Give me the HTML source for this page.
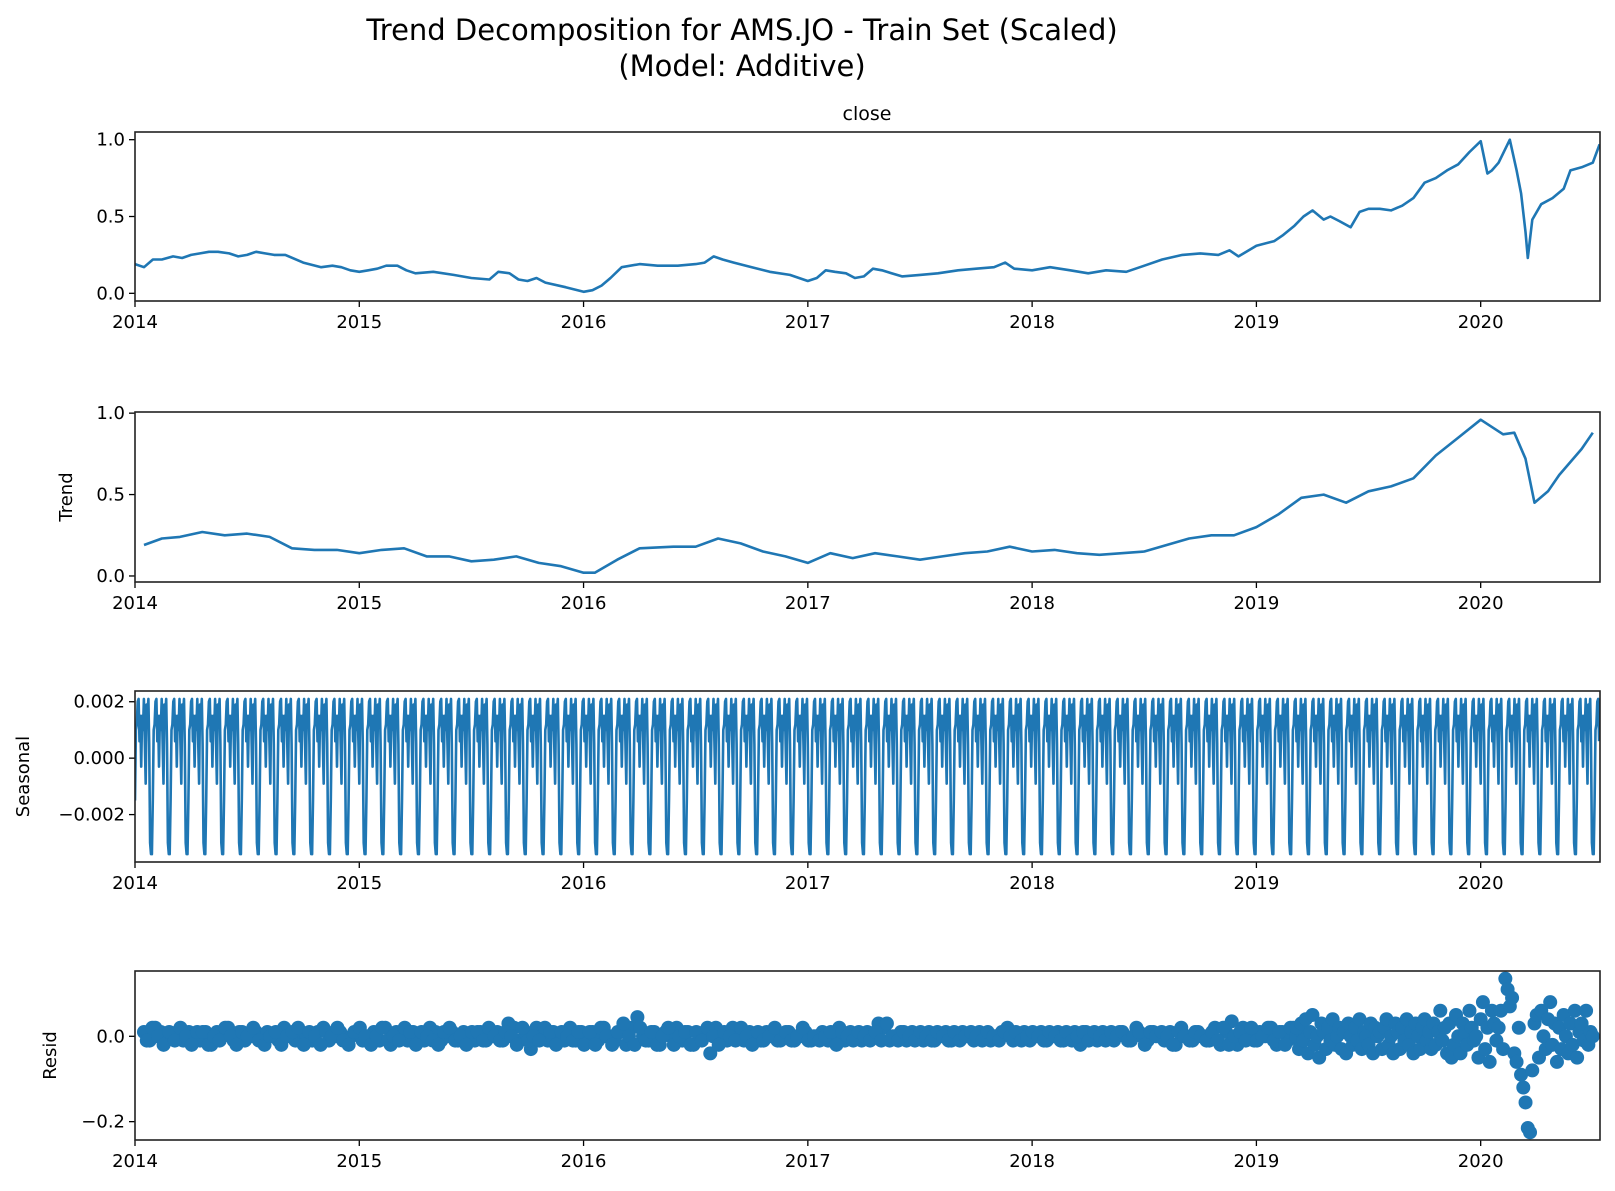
<!DOCTYPE html>
<html><head><meta charset="utf-8"><style>
body{margin:0;background:#fff}
svg{display:block;font-family:"DejaVu Sans","Liberation Sans",sans-serif}
</style></head><body>
<svg id="fig" width="1615" height="1191" viewBox="0 0 1615 1191">
<text x="742" y="40" font-size="29" text-anchor="middle">Trend Decomposition for AMS.JO - Train Set (Scaled)</text>
<text x="742" y="76" font-size="29" text-anchor="middle">(Model: Additive)</text>
<text x="867" y="120" font-size="19" text-anchor="middle">close</text>
</svg>
<script>
const closeT=[2014.0,2014.04,2014.08,2014.12,2014.17,2014.21,2014.25,2014.29,2014.33,2014.37,2014.42,2014.46,2014.5,2014.54,2014.58,2014.62,2014.67,2014.75,2014.83,2014.88,2014.92,2014.96,
2015.0,2015.04,2015.08,2015.12,2015.17,2015.21,2015.25,2015.33,2015.42,2015.5,2015.58,2015.62,2015.67,2015.71,2015.75,2015.79,2015.83,2015.92,
2016.0,2016.04,2016.08,2016.12,2016.17,2016.25,2016.33,2016.42,2016.5,2016.54,2016.58,2016.62,2016.67,2016.75,2016.83,2016.92,
2017.0,2017.04,2017.08,2017.12,2017.17,2017.21,2017.25,2017.29,2017.33,2017.42,2017.5,2017.58,2017.67,2017.75,2017.83,2017.88,2017.92,
2018.0,2018.08,2018.17,2018.25,2018.33,2018.42,2018.5,2018.58,2018.67,2018.75,2018.83,2018.88,2018.92,
2019.0,2019.08,2019.12,2019.17,2019.21,2019.25,2019.3,2019.33,2019.37,2019.42,2019.46,2019.5,2019.55,2019.6,2019.65,2019.7,2019.75,2019.8,2019.85,2019.9,2019.95,
2020.0,2020.03,2020.05,2020.08,2020.13,2020.16,2020.18,2020.2,2020.21,2020.23,2020.27,2020.32,2020.37,2020.4,2020.45,2020.5,2020.53];
const closeV=[0.19,0.17,0.22,0.22,0.24,0.23,0.25,0.26,0.27,0.27,0.26,0.24,0.25,0.27,0.26,0.25,0.25,0.20,0.17,0.18,0.17,0.15,
0.14,0.15,0.16,0.18,0.18,0.15,0.13,0.14,0.12,0.10,0.09,0.14,0.13,0.09,0.08,0.10,0.07,0.04,
0.01,0.02,0.05,0.10,0.17,0.19,0.18,0.18,0.19,0.20,0.24,0.22,0.20,0.17,0.14,0.12,
0.08,0.10,0.15,0.14,0.13,0.10,0.11,0.16,0.15,0.11,0.12,0.13,0.15,0.16,0.17,0.20,0.16,
0.15,0.17,0.15,0.13,0.15,0.14,0.18,0.22,0.25,0.26,0.25,0.28,0.24,
0.31,0.34,0.38,0.44,0.50,0.54,0.48,0.50,0.47,0.43,0.53,0.55,0.55,0.54,0.57,0.62,0.72,0.75,0.80,0.84,0.92,
0.99,0.78,0.80,0.85,1.0,0.80,0.65,0.40,0.23,0.48,0.58,0.62,0.68,0.80,0.82,0.85,0.97];
const trendT=[2014.04,2014.12,2014.2,2014.3,2014.4,2014.5,2014.6,2014.7,2014.8,2014.9,2015.0,2015.1,2015.2,2015.3,2015.4,2015.5,2015.6,2015.7,2015.8,2015.9,2016.0,2016.05,2016.15,2016.25,2016.4,2016.5,2016.6,2016.7,2016.8,2016.9,2017.0,2017.1,2017.2,2017.3,2017.4,2017.5,2017.6,2017.7,2017.8,2017.9,2018.0,2018.1,2018.2,2018.3,2018.4,2018.5,2018.6,2018.7,2018.8,2018.9,2019.0,2019.1,2019.2,2019.3,2019.4,2019.5,2019.6,2019.7,2019.8,2019.9,2020.0,2020.1,2020.15,2020.2,2020.24,2020.3,2020.35,2020.4,2020.45,2020.5];
const trendV=[0.19,0.23,0.24,0.27,0.25,0.26,0.24,0.17,0.16,0.16,0.14,0.16,0.17,0.12,0.12,0.09,0.10,0.12,0.08,0.06,0.02,0.02,0.10,0.17,0.18,0.18,0.23,0.20,0.15,0.12,0.08,0.14,0.11,0.14,0.12,0.10,0.12,0.14,0.15,0.18,0.15,0.16,0.14,0.13,0.14,0.15,0.19,0.23,0.25,0.25,0.30,0.38,0.48,0.50,0.45,0.52,0.55,0.60,0.74,0.85,0.96,0.87,0.88,0.72,0.45,0.52,0.62,0.70,0.78,0.88];
const seasonPattern=[-0.0034,-0.0034,-0.0015,0.0010,0.0012,0.0020,0.0021,0.0006,0.0015,-0.0003,0.0015,0.0010,0.0021,0.0006,-0.0009,0.0019,0.0016,0.0021,0.0005,-0.0030];
const residA=[0.01,-0.01,0.02,0.01,-0.01,0.00,0.01,-0.01,0.01,0.00,-0.01,0.01,-0.02,0.01,0.00,0.02,-0.01,0.01,-0.01,0.00,0.01,-0.01,0.01,0.00,-0.01,0.02,0.00,-0.01,0.01,0.00,-0.01,0.01,0.02,-0.01,0.00,0.01,-0.01,0.00,0.01,-0.01,
0.00,0.01,-0.01,0.02,-0.02,0.01,0.00,-0.01,0.01,0.00,-0.01,0.02,0.01,-0.01,0.00,0.01,-0.01,0.01,0.00,-0.01,0.01,-0.01,0.00,0.01,-0.01,0.03,0.02,-0.01,0.01,-0.03,0.02,0.00,-0.01,0.01,0.00,-0.01,0.02,-0.01,0.01,0.00,
0.01,-0.01,0.02,0.00,-0.01,0.01,-0.02,0.02,0.045,0.00,-0.01,0.01,-0.02,0.01,0.00,0.02,-0.01,0.01,-0.02,0.00,0.01,-0.04,0.02,0.00,-0.01,0.02,0.00,-0.01,0.01,0.00,-0.01,0.01,0.00,-0.01,0.00,0.01,-0.01,0.00,0.01,-0.01,
0.00,0.01,-0.01,0.00,0.02,-0.01,0.01,0.00,-0.01,0.01,0.00,0.03,0.02,-0.01,0.00,0.01,-0.01,0.01,0.00,-0.01,0.01,-0.01,0.00,0.01,-0.01,0.00,0.01,0.00,-0.01,0.01,0.00,-0.01,0.00,0.01,0.02,-0.01,0.00,0.01,-0.01,0.00,
0.01,-0.01,0.00,0.01,-0.01,0.00,0.01,-0.02,0.01,0.00,-0.01,0.01,0.00,-0.01,0.01,0.00,-0.01,0.02,0.00,-0.01,0.01,0.00,-0.01,0.01,-0.02,0.02,0.00,-0.01,0.01,0.00,-0.01,0.02,-0.02,0.01,0.035,-0.02,0.02,0.00,-0.01,0.01,
0.00,0.02,-0.02,0.01,-0.01,0.02,-0.01];
const residB=[-0.01,0.02,0.00,-0.02,0.01,-0.01,0.02,0.00,-0.02,0.01,0.01,-0.02,0.00,-0.01,0.02,0.00,-0.02,0.01,0.00,0.02,-0.01,-0.02,0.00,0.01,-0.02,0.00,0.01,0.02,-0.02,0.01,0.00,-0.02,0.01,0.00,0.02,-0.01,-0.02,0.01,0.02,0.00,
-0.02,0.00,0.02,-0.01,0.00,-0.01,0.02,0.01,-0.02,0.01,0.00,-0.01,-0.02,0.01,0.02,-0.01,0.00,-0.02,0.01,0.01,-0.01,0.02,0.00,-0.01,0.01,0.00,-0.02,0.02,-0.01,0.00,-0.01,0.02,0.01,-0.02,0.01,0.00,-0.01,0.01,-0.02,0.01,
-0.02,0.02,0.00,-0.02,0.01,0.03,0.00,-0.02,0.02,-0.01,0.01,-0.02,0.00,0.02,-0.02,0.00,0.01,-0.02,0.01,-0.01,0.02,0.00,-0.02,0.01,0.00,-0.01,0.02,0.00,-0.02,0.01,-0.01,0.00,0.02,-0.01,0.01,-0.01,0.00,0.02,-0.01,0.00,
-0.01,0.00,0.01,-0.02,0.01,0.00,-0.01,0.01,0.00,-0.01,0.01,-0.01,0.03,0.00,-0.01,0.01,0.00,-0.01,0.01,0.00,-0.01,0.01,0.00,-0.01,0.01,-0.01,0.00,0.01,0.00,-0.01,0.01,0.00,-0.01,0.01,0.00,0.01,-0.01,0.00,0.01,0.00,
-0.01,0.01,0.00,-0.01,0.01,-0.01,0.00,0.01,-0.01,0.01,0.00,-0.01,0.01,0.00,0.01,-0.01,0.00,0.01,-0.02,0.01,0.00,0.01,0.00,-0.02,0.01,0.00,-0.01,0.01,0.00,-0.01,0.01,-0.01,0.02,-0.02,0.00,0.01,-0.01,0.02,-0.01,0.00,
0.02,-0.01,0.01,-0.02,0.02,0.00,0.01];
const residLate=[0.02,-0.03,0.03,-0.01,0.04,-0.04,0.01,0.05,-0.02,0.00,-0.05,0.03,0.01,-0.03,0.02,-0.01,0.04,-0.02,0.00,0.02,
-0.03,0.01,-0.04,0.03,0.00,-0.02,0.02,-0.01,0.04,-0.03,0.01,0.00,-0.02,0.03,-0.04,0.02,0.00,0.01,-0.03,0.02,
0.04,-0.02,0.00,-0.04,0.03,0.01,-0.03,0.02,-0.01,0.04,-0.02,0.01,-0.04,0.03,0.00,-0.03,0.02,0.04,-0.01,0.01,
-0.03,0.03,-0.02,0.01,0.06,-0.01,0.02,-0.04,0.03,-0.05,-0.02,0.05,0.00,-0.04,0.03,0.01,-0.02,0.06,0.02,-0.01,
0.00,-0.05,0.04,0.08,-0.03,0.02,-0.06,0.06,0.03,-0.01,0.02,0.06,-0.03,0.135,0.11,0.07,0.09,-0.04,-0.06,0.02,
-0.09,-0.12,-0.155,-0.215,-0.225,-0.08,0.03,0.05,-0.05,0.06,0.00,-0.03,0.04,0.08,-0.02,0.03,-0.06,0.02,-0.03,0.05,
0.00,-0.04,0.03,-0.02,0.06,-0.05,0.01,0.03,-0.01,0.06,-0.02,0.01,0.00];
const residStep=0.025, residBOffset=0.0125, residStart=2014.04;
const residLateStart=2019.18, residLateStep=0.01;
const years=[2014,2015,2016,2017,2018,2019,2020];

const NS='http://www.w3.org/2000/svg';
const svg=document.getElementById('fig');
const X0=135,X1=1600,T0=2014,T1=2020.532;
const xs=t=>X0+(t-T0)/(T1-T0)*(X1-X0);
function mk(tag,attrs,parent){const e=document.createElementNS(NS,tag);for(const k in attrs)e.setAttribute(k,attrs[k]);(parent||svg).appendChild(e);return e;}
function panel(name,top,bot,ymin,ymax,ticks,tickLabels,ylabel){
  const g=mk('g',{});
  
  
  const ys=v=>bot-(v-ymin)/(ymax-ymin)*(bot-top);
  ticks.forEach((v,i)=>{
    const y=ys(v);
    const l=mk('line',{x1:X0-6,x2:X0,y1:y,y2:y,stroke:'#000','stroke-width':1.3},g);
    
    
    const t=mk('text',{x:X0-10,y:y+6,'font-size':18,'text-anchor':'end'},g);
    t.textContent=tickLabels[i];
    
    
  });
  years.forEach(yr=>{
    const x=xs(yr);
    const l=mk('line',{x1:x,x2:x,y1:bot,y2:bot+6,stroke:'#000','stroke-width':1.3},g);
    
    
    const t=mk('text',{x:x,y:bot+27,'font-size':18,'text-anchor':'middle'},g);
    t.textContent=yr;
    
    
  });
  if(ylabel){
    const cx=ylabel.x, cy=(top+bot)/2;
    const t=mk('text',{x:cx,y:cy,'font-size':18,'text-anchor':'middle',transform:`rotate(-90 ${cx} ${cy})`},g);
    t.textContent=ylabel.text;
    
    
  }
  const clip=mk('clipPath',{id:'clip-'+name},g);
  mk('rect',{x:X0,y:top,width:X1-X0,height:bot-top},clip);
  const plot=mk('g',{'clip-path':`url(#clip-${name})`},g);
  return {g,plot,ys,top,bot};
}
function frame(p,name){
  const r=mk('rect',{x:X0,y:p.top,width:X1-X0,height:p.bot-p.top,fill:'none',stroke:'#222','stroke-width':1.6},p.g);
  
  
}
function line(p,T,V,name){
  const d=T.map((t,i)=>(i?'L':'M')+xs(t).toFixed(1)+','+p.ys(V[i]).toFixed(1)).join('');
  const e=mk('path',{d,fill:'none',stroke:'#1f77b4','stroke-width':2.6,'stroke-linejoin':'round'},p.plot);
  
  
}
function dot(p,t,v){
  const c=mk('circle',{cx:xs(t),cy:p.ys(v),r:7,fill:'#1f77b4'},p.plot);
  
  
}
const p1=panel('close',132,301,-0.05,1.05,[0,0.5,1],['0.0','0.5','1.0'],null);
line(p1,closeT,closeV,'close-line');frame(p1,'close');
const p2=panel('trend',412,582,-0.037,1.007,[0,0.5,1],['0.0','0.5','1.0'],{x:72,text:'Trend'});
line(p2,trendT,trendV,'trend-line');frame(p2,'trend');
const p3=panel('seasonal',691,862,-0.00368,0.00238,[-0.002,0,0.002],['\u22120.002','0.000','0.002'],{x:29,text:'Seasonal'});
const sT=[],sV=[];const nDays=Math.round((T1-T0)*252);
for(let i=0;i<nDays;i++){sT.push(T0+i/252);sV.push(seasonPattern[(i+2)%seasonPattern.length]);}
line(p3,sT,sV,'seasonal-line');frame(p3,'seasonal');
const p4=panel('resid',971,1140,-0.243,0.153,[-0.2,0],['\u22120.2','0.0'],{x:56,text:'Resid'});
residA.forEach((v,i)=>dot(p4,residStart+i*residStep,v));
residB.forEach((v,i)=>dot(p4,residStart+residBOffset+i*residStep,v));
residLate.forEach((v,i)=>dot(p4,residLateStart+i*residLateStep,v));
frame(p4,'resid');
</script>
</body></html>
